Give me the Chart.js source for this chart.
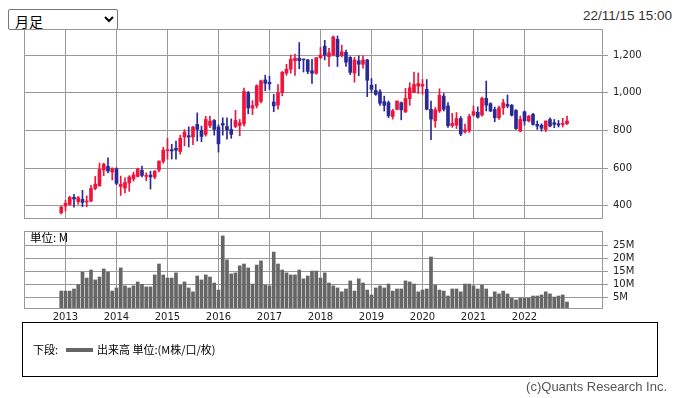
<!DOCTYPE html>
<html lang="ja">
<head>
<meta charset="utf-8">
<script src="https://cdn.jsdelivr.net/npm/chart.js@4.4.1/dist/chart.umd.min.js"></script>
<style>
    body { margin: 0; width: 678px; height: 398px; background: #fff; position: relative; overflow: hidden; font-family: 'Liberation Sans', Arial, sans-serif; }
    #period { position: absolute; left: 8px; top: 9px; width: 110px; height: 21px; font-size: 14px; font-family: 'Noto Sans CJK JP', sans-serif; border: 1px solid #767676; border-radius: 2px; background: #fff; color: #000; padding: 0 2px; }
    #stamp { position: absolute; right: 6px; top: 8px; font-size: 13.5px; color: #333; }
    #priceChart { position: absolute; left: 0; top: 0; }
    #volumeChart { position: absolute; left: 0; top: 225px; }
    #legendBox { position: absolute; left: 22px; top: 322px; width: 634px; height: 53px; border: 1px solid #000; font-size: 11px; font-family: 'Noto Sans CJK JP', sans-serif; color: #000; }
    #legendBox .item { position: absolute; left: 10px; top: 18px; white-space: nowrap; }
    #legendBox .swatch { display: inline-block; width: 27px; height: 4px; background: #666; vertical-align: middle; margin: 0 4px 0 8px; position: relative; top: -1px; }
    #credit { position: absolute; right: 11px; top: 379px; font-size: 13px; color: #555; }
</style>
</head>
<body>
<select id="period"><option>月足</option></select>
<div id="stamp">22/11/15 15:00</div>
<canvas id="priceChart" width="678" height="222"></canvas>
<canvas id="volumeChart" width="678" height="105"></canvas>
<div id="legendBox"><div class="item">下段:<span class="swatch"></span>出来高 単位:(M株/口/枚)</div></div>
<div id="credit">(c)Quants Research Inc.</div>

<script>
// 月足データ (2012/12 〜 2022/11)
const opens = [
    363, 399, 407, 445, 422, 434, 420, 425, 492, 505, 590, 609,
    579, 597, 503, 494, 521, 542, 556, 588, 556, 563, 553, 590,
    636, 692, 698, 705, 688, 765, 772, 765, 832, 800, 779, 826,
    853, 818, 837, 821, 805, 821, 826, 835, 1000, 918, 932, 954,
    1068, 1055, 951, 934, 1000, 1104, 1125, 1170, 1183, 1177, 1174, 1116,
    1103, 1186, 1247, 1191, 1200, 1283, 1196, 1214, 1188, 1104, 1169, 1151,
    1174, 1040, 1012, 1005, 953, 947, 874, 912, 947, 898, 968, 1000,
    1035, 1035, 1018, 912, 851, 903, 982, 930, 825, 828, 863, 793,
    798, 881, 896, 881, 970, 942, 911, 867, 920, 938, 933, 906,
    796, 899, 850, 885, 832, 828, 805, 858, 841, 835, 832, 835
];
const highs = [
    399, 429, 450, 461, 450, 482, 453, 508, 556, 627, 627, 655,
    602, 602, 558, 549, 560, 579, 600, 611, 575, 584, 588, 639,
    710, 758, 726, 744, 775, 804, 819, 821, 893, 823, 875, 875,
    858, 830, 867, 867, 861, 907, 858, 1025, 1007, 958, 1042, 1067,
    1093, 1087, 991, 1043, 1113, 1151, 1200, 1205, 1266, 1178, 1177, 1177,
    1186, 1240, 1278, 1235, 1301, 1301, 1252, 1226, 1191, 1188, 1196, 1195,
    1177, 1075, 1044, 1017, 982, 956, 912, 956, 951, 1023, 1053, 1110,
    1105, 1070, 1070, 956, 921, 1021, 996, 947, 891, 895, 874, 833,
    886, 930, 925, 977, 1062, 947, 924, 929, 965, 988, 938, 911,
    876, 903, 880, 890, 850, 835, 850, 867, 858, 853, 864, 876
];
const lows = [
    356, 372, 404, 393, 408, 395, 395, 422, 485, 505, 560, 574,
    537, 512, 455, 468, 477, 531, 553, 553, 533, 489, 544, 581,
    625, 648, 648, 648, 674, 718, 712, 725, 744, 740, 770, 814,
    775, 685, 775, 753, 758, 814, 772, 823, 888, 884, 919, 946,
    1010, 1017, 899, 913, 983, 1092, 1104, 1092, 1127, 1110, 1101, 1049,
    1098, 1180, 1174, 1139, 1195, 1139, 1190, 1139, 1096, 1056, 1090, 1130,
    979, 1000, 986, 933, 903, 868, 860, 909, 856, 895, 933, 1000,
    996, 991, 909, 751, 816, 895, 903, 816, 816, 810, 772, 786,
    789, 877, 865, 876, 903, 899, 846, 858, 885, 920, 876, 805,
    793, 828, 845, 828, 805, 796, 793, 818, 814, 818, 818, 832
];
const closes = [
    393, 413, 445, 436, 443, 418, 423, 492, 515, 593, 620, 584,
    597, 519, 515, 524, 553, 565, 595, 561, 561, 553, 583, 637,
    695, 697, 691, 695, 758, 791, 765, 818, 805, 768, 858, 849,
    805, 729, 828, 802, 779, 853, 840, 1007, 919, 932, 1037, 1063,
    1050, 1047, 930, 1000, 1108, 1125, 1177, 1183, 1170, 1174, 1113, 1103,
    1186, 1200, 1198, 1212, 1296, 1191, 1217, 1162, 1108, 1174, 1151, 1174,
    1066, 1018, 991, 944, 933, 877, 904, 956, 909, 970, 1026, 1044,
    1049, 1044, 912, 860, 909, 986, 912, 825, 837, 863, 781, 803,
    874, 900, 870, 970, 934, 903, 867, 920, 947, 929, 881, 809,
    858, 850, 876, 832, 823, 811, 850, 823, 832, 828, 837, 850
];
// 出来高 (M)
const volumes = [
    7.4, 7.4, 7.4, 8.2, 9.9, 14.7, 12.4, 15.5, 11.7, 12.8, 15.9, 14.7,
    7.4, 8.6, 16.3, 9.4, 8.6, 9.4, 10.9, 10.0, 9.0, 9.0, 13.6, 17.8,
    13.6, 12.4, 12.4, 14.4, 9.7, 10.9, 8.6, 7.1, 13.2, 11.7, 13.6, 12.8,
    10.5, 7.8, 28.6, 19.4, 14.0, 14.4, 17.1, 17.8, 16.3, 10.1, 17.4, 19.0,
    9.7, 9.4, 22.4, 17.8, 15.5, 14.4, 13.6, 13.6, 15.5, 12.1, 13.2, 15.1,
    15.1, 12.4, 14.4, 10.5, 9.4, 8.6, 7.1, 8.2, 11.3, 7.4, 12.1, 10.5,
    7.8, 5.9, 8.6, 9.4, 8.6, 10.1, 7.4, 8.2, 8.2, 11.3, 10.9, 10.1,
    7.1, 7.8, 8.2, 20.5, 9.7, 7.8, 7.4, 5.5, 8.2, 8.2, 7.1, 10.1,
    10.1, 9.4, 8.2, 9.7, 8.2, 5.1, 7.1, 6.3, 7.4, 6.3, 4.7, 4.0,
    4.7, 4.7, 4.7, 5.5, 5.5, 5.9, 7.1, 6.3, 5.1, 5.5, 5.9, 3.2
];
const yearLabels = ['2013', '2014', '2015', '2016', '2017', '2018', '2019', '2020', '2021', '2022'];
const priceTicks = [400, 600, 800, 1000, 1200];
const volumeTicks = [5, 10, 15, 20, 25];

const UP = '#f0143c';
const DOWN = '#2a2a96';
const GRID = '#999';
const tickFont = { family: 'DejaVu Sans', size: 10 };

// x = 2013年1月からの月数
const monthX = i => i - 1;
const candleColors = opens.map((o, i) => closes[i] >= o ? UP : DOWN);

const xMin = -9.76;
const xMax = 126.47;
const yearTicks = axis => { axis.ticks = yearLabels.map((_, i) => ({ value: i * 12 })); };

// 軸ラベルによる余白を無くす
const fixX = h => s => { s.height = h; s.paddingLeft = 0; s.paddingRight = 0; };
const fixY = s => { s.width = 75; s.paddingTop = 0; s.paddingBottom = 0; };

// 枠線
const framePlugin = {
    id: 'frame',
    afterDraw(chart) {
        const { ctx, chartArea: a } = chart;
        ctx.save();
        ctx.strokeStyle = GRID;
        ctx.lineWidth = 1;
        ctx.strokeRect(Math.round(a.left) + 0.5, Math.round(a.top) + 0.5,
            Math.round(a.right - a.left) - 1, Math.round(a.bottom - a.top) - 1);
        if (chart.canvas.id === 'volumeChart') {
            ctx.fillStyle = '#000';
            ctx.font = "11.5px 'Noto Sans CJK JP'";
            ctx.textBaseline = 'middle';
            ctx.fillText('単位: M', a.left + 6, a.top + 7);
        }
        ctx.restore();
    }
};

// ローソク足
const priceChart = new Chart(document.getElementById('priceChart').getContext('2d'), {
    type: 'bar',
    data: {
        datasets: [{
            data: opens.map((o, i) => ({ x: monthX(i), y: [o, closes[i]] })),
            backgroundColor: candleColors,
            barThickness: 3,
            minBarLength: 1,
            grouped: false,
        }, {
            data: lows.map((l, i) => ({ x: monthX(i), y: [l, highs[i]] })),
            backgroundColor: candleColors,
            barThickness: 1,
            grouped: false,
        }],
    },
    options: {
        responsive: false,
        animation: false,
        layout: { padding: { left: 24, top: 29, right: 0, bottom: 0 } },
        plugins: { legend: { display: false }, tooltip: { enabled: false } },
        scales: {
            x: {
                type: 'linear', min: xMin, max: xMax, offset: false,
                afterBuildTicks: yearTicks,
                afterFit: fixX(3),
                ticks: { display: false },
                grid: { color: GRID, drawTicks: false, offset: false },
                border: { display: false },
            },
            y: {
                position: 'right', min: 330, max: 1338,
                afterBuildTicks: axis => { axis.ticks = priceTicks.map(v => ({ value: v })); },
                afterFit: fixY,
                ticks: { font: tickFont, color: '#222', padding: 5, callback: v => v.toLocaleString('en-US') },
                grid: { color: GRID, tickLength: 5 },
                border: { display: false },
            },
        },
    },
    plugins: [framePlugin],
});

// 出来高
const volumeChart = new Chart(document.getElementById('volumeChart').getContext('2d'), {
    type: 'bar',
    data: {
        datasets: [{
            data: volumes.map((v, i) => ({ x: monthX(i), y: v })),
            backgroundColor: '#666',
            barThickness: 3,
        }],
    },
    options: {
        responsive: false,
        animation: false,
        layout: { padding: { left: 24, top: 6, right: 0, bottom: 0 } },
        plugins: { legend: { display: false }, tooltip: { enabled: false } },
        scales: {
            x: {
                type: 'linear', min: xMin, max: xMax, offset: false,
                afterBuildTicks: yearTicks,
                afterFit: fixX(21),
                ticks: { font: tickFont, color: '#222', padding: 2, maxRotation: 0,
                    callback: v => yearLabels[v / 12] },
                grid: { color: GRID, drawTicks: false, offset: false },
                border: { display: false },
            },
            y: {
                position: 'right', min: 0.5, max: 30.5,
                afterBuildTicks: axis => { axis.ticks = volumeTicks.map(v => ({ value: v })); },
                afterFit: fixY,
                ticks: { font: tickFont, color: '#222', padding: 5, callback: v => v + 'M' },
                grid: { color: GRID, tickLength: 5 },
                border: { display: false },
            },
        },
    },
    plugins: [framePlugin],
});
</script>
</body>
</html>
